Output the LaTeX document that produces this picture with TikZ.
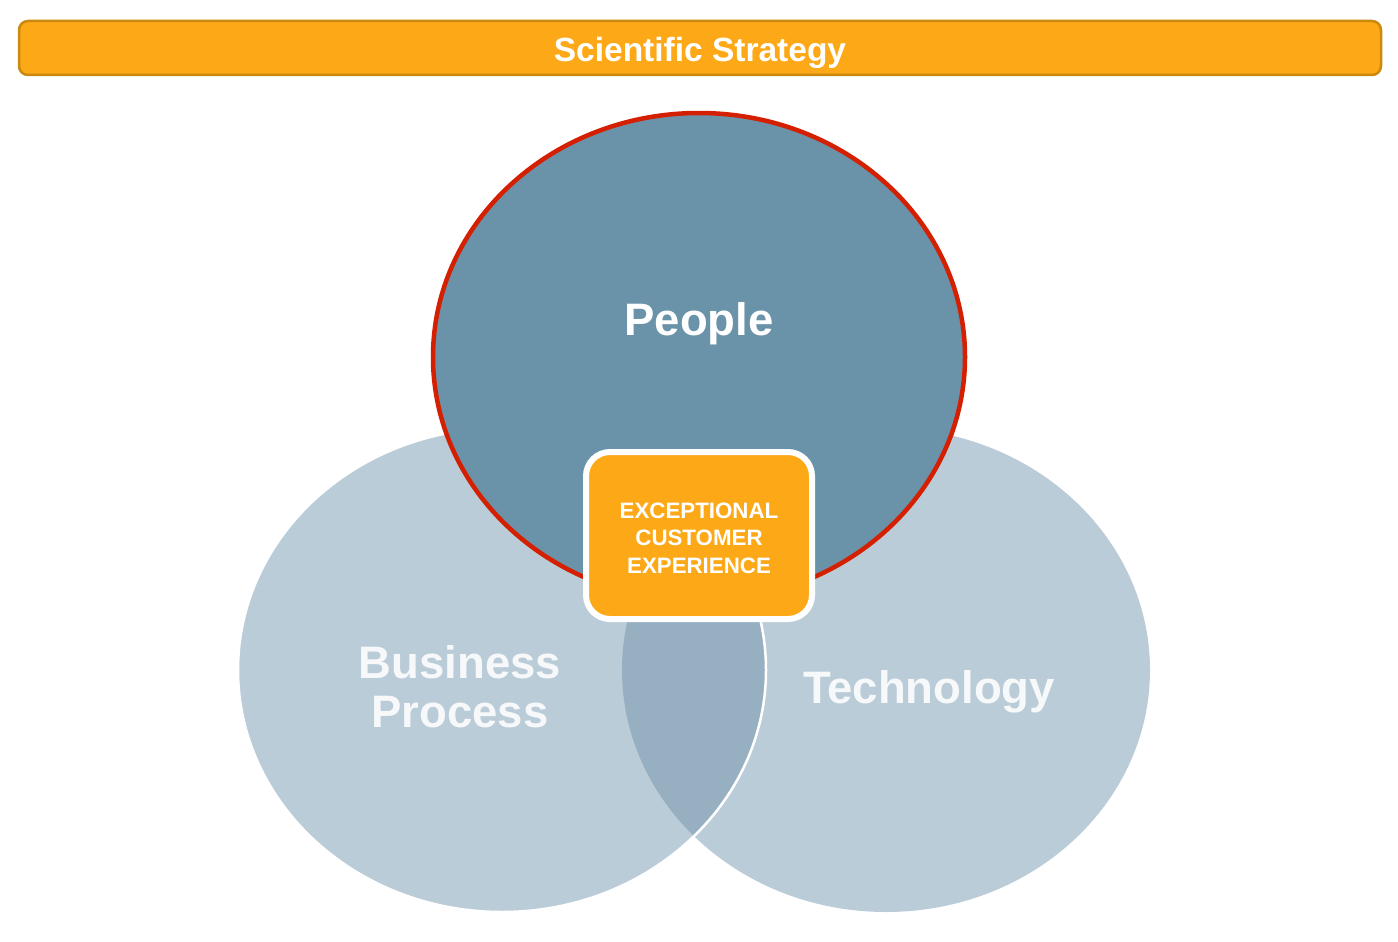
\documentclass[tikz,border=0pt]{standalone}
\usepackage{fontspec}
\setmainfont{Liberation Sans}
\usetikzlibrary{shapes.geometric}

\definecolor{bannerfill}{HTML}{FDA816}
\definecolor{bannerline}{HTML}{C98A0E}
\definecolor{peoplefill}{HTML}{6A92A9}
\definecolor{peopleline}{HTML}{D42000}
\definecolor{lowfill}{HTML}{BBCCD9}
\definecolor{lensfill}{HTML}{96B0C2}
\definecolor{softwhite}{HTML}{F6F8FA}

\tikzset{
  bubble/.style={ellipse, inner sep=0pt, minimum width=528pt, minimum height=484pt},
  biglabel/.style={anchor=base, font=\bfseries\fontsize{45.5}{50}\selectfont},
}

\begin{document}
\begin{tikzpicture}[x=1pt, y=-1pt]

    % --- Canvas ---
    \useasboundingbox (0,0) rectangle (1398,942);

    % --- Banner ---
    \node[draw=bannerline, line width=2.5pt, fill=bannerfill, rounded corners=9pt,
          minimum width=1362pt, minimum height=54pt] (banner) at (700,48) {};
    \node[anchor=base, text=white, font=\bfseries\fontsize{33.5}{38}\selectfont]
          (title) at (700,62) {Scientific Strategy};

    % --- Lower circles ---
    % Technology drawn first, Business Process over it
    \node[bubble, fill=lowfill] (tech) at (886,670) {};
    \node[bubble, fill=lowfill] (business) at (502,670) {};

    % --- Overlap of the two lower circles ---
    \begin{scope}
        \clip (tech.center) ellipse [x radius=264pt, y radius=242pt];
        \fill[lensfill] (business.center) ellipse [x radius=264pt, y radius=242pt];
    \end{scope}
    % white rim of the Business Process circle
    \draw[white, line width=2.5pt] (business.center) ellipse [x radius=264pt, y radius=242pt];

    % --- People circle ---
    \node[bubble, fill=peoplefill, draw=peopleline, line width=4.5pt,
          minimum width=532pt, minimum height=488pt] (people) at (699,357) {};

    % --- Labels ---
    \node[biglabel, text=white] (peopletext) at (699,335) {People};
    \node[biglabel, text=softwhite] (busitext) at (460,678) {Business};
    \node[biglabel, text=softwhite] (proctext) at (460,727) {Process};
    \node[biglabel, text=softwhite] (techtext) at (929,703) {Technology};

    % --- Centre box ---
    \node[draw=white, line width=6pt, fill=bannerfill, rounded corners=24pt,
          minimum width=226pt, minimum height=167pt] (core) at (699,535.5) {};
    \node[align=center, text=white, font=\bfseries\fontsize{22.3}{27.5}\selectfont]
          (coretext) at (699,538) {EXCEPTIONAL\\CUSTOMER\\EXPERIENCE};

\end{tikzpicture}
\end{document}
